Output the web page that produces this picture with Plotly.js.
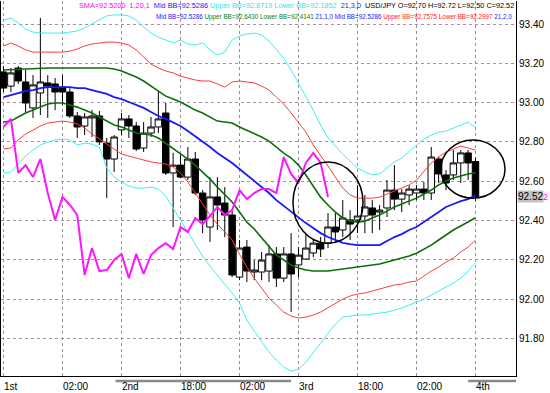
<!DOCTYPE html>
<html><head><meta charset="utf-8">
<script src="https://cdn.plot.ly/plotly-3.0.1.min.js"></script>
<style>html,body{margin:0;padding:0;background:#fff}#chart{width:550px;height:393px}</style>
</head><body><div id="chart"></div>
<script>
// USD/JPY hourly candles
const openP = [93.156,93.084,93.176,93.105,92.973,93.049,93.100,93.095,93.079,93.054,
 92.932,92.881,92.922,92.932,92.794,92.713,92.861,92.917,92.881,92.769,
 92.845,92.876,92.947,92.642,92.682,92.621,92.713,92.540,92.367,92.520,
 92.489,92.428,92.112,92.265,92.138,92.138,92.143,92.230,92.107,92.230,
 92.174,92.204,92.235,92.285,92.285,92.367,92.352,92.403,92.403,92.423,
 92.464,92.443,92.464,92.555,92.509,92.530,92.540,92.560,92.540,92.713,
 92.632,92.632,92.693,92.744,92.70];
const highP = [93.186,93.176,93.186,93.166,93.140,93.431,93.140,93.125,93.140,93.074,
 92.952,92.947,92.962,92.957,92.820,92.835,92.947,92.937,92.901,92.901,
 92.927,93.054,92.998,92.744,92.733,92.774,92.749,92.555,92.621,92.621,
 92.570,92.453,92.301,92.301,92.199,92.240,92.275,92.265,92.265,92.336,
 92.265,92.336,92.301,92.316,92.438,92.438,92.504,92.453,92.580,92.530,
 92.504,92.479,92.606,92.682,92.560,92.580,92.580,92.596,92.774,92.723,
 92.657,92.759,92.759,92.759,92.72];
const lowP = [93.054,93.054,93.095,92.947,92.922,92.937,92.922,92.962,92.988,92.922,
 92.820,92.835,92.825,92.784,92.515,92.647,92.835,92.820,92.754,92.749,
 92.825,92.845,92.632,92.367,92.615,92.606,92.530,92.336,92.291,92.352,
 92.316,92.112,92.097,92.087,92.097,92.097,92.087,92.062,92.087,91.934,
 92.112,92.199,92.214,92.214,92.260,92.291,92.316,92.301,92.336,92.336,
 92.336,92.352,92.418,92.453,92.443,92.479,92.504,92.504,92.504,92.591,
 92.555,92.606,92.591,92.606,92.50];
const closeP = [93.074,93.151,93.110,92.998,93.090,93.105,93.084,93.054,93.054,92.932,
 92.876,92.927,92.932,92.800,92.713,92.825,92.917,92.881,92.764,92.845,
 92.876,92.917,92.642,92.682,92.621,92.713,92.540,92.403,92.520,92.479,
 92.428,92.123,92.260,92.143,92.148,92.199,92.230,92.107,92.230,92.128,
 92.224,92.260,92.285,92.255,92.367,92.342,92.413,92.382,92.423,92.469,
 92.428,92.453,92.555,92.509,92.540,92.560,92.560,92.540,92.723,92.637,
 92.591,92.693,92.744,92.693,92.52];

// Bollinger bands (21 periods, 1/2/3 deviations)
const midBB = [93.028,93.039,93.049,93.059,93.064,93.074,93.079,93.079,93.079,93.079,
 93.074,93.074,93.064,93.054,93.044,93.028,93.018,93.003,92.988,92.973,
 92.952,92.932,92.917,92.901,92.881,92.856,92.830,92.800,92.774,92.744,
 92.718,92.693,92.662,92.632,92.601,92.571,92.540,92.504,92.474,92.443,
 92.413,92.387,92.362,92.336,92.316,92.301,92.286,92.280,92.275,92.275,
 92.275,92.275,92.296,92.316,92.331,92.352,92.367,92.392,92.418,92.443,
 92.469,92.484,92.499,92.509,92.529];
const up1 = [93.166,93.168,93.171,93.171,93.173,93.176,93.176,93.176,93.176,93.176,
 93.176,93.176,93.176,93.176,93.176,93.171,93.161,93.145,93.130,93.110,
 93.084,93.059,93.033,93.018,93.003,92.983,92.962,92.947,92.927,92.906,
 92.901,92.896,92.876,92.860,92.845,92.825,92.804,92.774,92.743,92.718,
 92.682,92.632,92.575,92.519,92.479,92.443,92.413,92.397,92.392,92.397,
 92.413,92.428,92.448,92.469,92.484,92.499,92.514,92.535,92.555,92.581,
 92.601,92.616,92.626,92.637,92.643];
const lo1 = [92.901,92.906,92.927,92.947,92.962,92.977,92.993,92.998,92.998,92.988,
 92.977,92.962,92.947,92.927,92.906,92.886,92.876,92.860,92.845,92.840,
 92.835,92.820,92.794,92.764,92.738,92.713,92.682,92.647,92.611,92.570,
 92.530,92.494,92.443,92.392,92.357,92.311,92.270,92.224,92.199,92.173,
 92.158,92.148,92.143,92.143,92.143,92.148,92.153,92.158,92.163,92.168,
 92.173,92.179,92.189,92.199,92.209,92.219,92.234,92.255,92.275,92.301,
 92.326,92.352,92.372,92.392,92.414];
const up2 = [93.288,93.303,93.288,93.268,93.257,93.257,93.257,93.257,93.257,93.262,
 93.273,93.288,93.298,93.303,93.308,93.308,93.303,93.293,93.268,93.232,
 93.196,93.176,93.161,93.151,93.135,93.125,93.115,93.110,93.110,93.095,
 93.079,93.105,93.110,93.105,93.100,93.084,93.064,93.028,92.993,92.947,
 92.901,92.850,92.784,92.733,92.677,92.621,92.565,92.530,92.514,92.514,
 92.514,92.519,92.535,92.550,92.565,92.581,92.606,92.647,92.693,92.723,
 92.749,92.764,92.779,92.769,92.758];
const lo2 = [92.764,92.769,92.810,92.840,92.860,92.881,92.896,92.901,92.906,92.901,
 92.891,92.871,92.840,92.815,92.789,92.764,92.738,92.728,92.718,92.708,
 92.698,92.693,92.687,92.672,92.642,92.596,92.540,92.479,92.428,92.382,
 92.341,92.301,92.229,92.163,92.107,92.056,92.005,91.970,91.934,91.914,
 91.904,91.909,91.919,91.934,91.955,91.980,92.000,92.016,92.026,92.031,
 92.041,92.051,92.062,92.072,92.077,92.087,92.092,92.117,92.143,92.163,
 92.189,92.209,92.240,92.265,92.300];
const up3 = [93.420,93.430,93.405,93.374,93.359,93.354,93.354,93.354,93.354,93.359,
 93.364,93.380,93.400,93.420,93.441,93.446,93.446,93.441,93.420,93.385,
 93.354,93.334,93.318,93.303,93.318,93.298,93.293,93.303,93.268,93.242,
 93.257,93.318,93.339,93.349,93.354,93.344,93.313,93.272,93.227,93.166,
 93.100,93.033,92.962,92.886,92.820,92.779,92.738,92.703,92.667,92.647,
 92.632,92.637,92.667,92.698,92.718,92.749,92.784,92.815,92.835,92.850,
 92.855,92.871,92.886,92.901,92.872];
const lo3 = [92.642,92.647,92.687,92.728,92.759,92.784,92.799,92.810,92.815,92.810,
 92.784,92.794,92.789,92.774,92.667,92.621,92.596,92.575,92.565,92.565,
 92.570,92.560,92.525,92.464,92.402,92.341,92.280,92.219,92.168,92.123,
 92.077,92.031,91.980,91.894,91.837,91.782,91.731,91.690,91.654,91.634,
 91.644,91.680,91.726,91.777,91.827,91.873,91.909,91.914,91.919,91.919,
 91.924,91.929,91.934,91.944,91.955,91.970,91.985,92.000,92.021,92.041,
 92.062,92.082,92.107,92.143,92.185];

// SMA(1) shifted 20 bars back (magenta)
const lagSMA = [92.876,92.917,92.642,92.682,92.621,92.713,92.540,92.403,92.520,92.479,
 92.428,92.123,92.260,92.143,92.148,92.199,92.230,92.107,92.230,92.128,
 92.224,92.260,92.285,92.255,92.367,92.342,92.413,92.382,92.423,92.469,
 92.428,92.453,92.555,92.509,92.540,92.560,92.560,92.540,92.723,92.637,
 92.591,92.693,92.744,92.693,92.52];

const tickIdx = [0,8,16,24,32,40,48,56,64];
const tickText = ['1st','02:00','2nd','18:00','02:00','3rd','18:00','02:00','4th'];
const yTicks = [91.8,92.0,92.2,92.4,92.6,92.8,93.0,93.2,93.4];

const idx = openP.map((_, i) => i);
const lagIdx = lagSMA.map((_, i) => i);

const FONT = 'Liberation Sans, Arial, sans-serif';
function band(y, color, width) {
  return {type:'scatter', mode:'lines', x: idx, y: y, line:{color:color, width:width},
          hoverinfo:'skip', showlegend:false};
}

const traces = [
  {type:'candlestick', x: idx, open: openP, high: highP, low: lowP, close: closeP,
   increasing:{line:{color:'#000', width:1}, fillcolor:'#ffffff'},
   decreasing:{line:{color:'#000', width:1}, fillcolor:'#000000'},
   whiskerwidth:0, hoverinfo:'skip', showlegend:false},
  band(up3, '#40eef2', 1),
  band(lo3, '#40eef2', 1),
  band(up2, '#ff3b3b', 1),
  band(lo2, '#ff3b3b', 1),
  band(up1, '#0b6e0b', 1.6),
  band(lo1, '#0b6e0b', 1.6),
  band(midBB, '#1818ff', 1.8),
  {type:'scatter', mode:'lines', x: lagIdx, y: lagSMA, line:{color:'#ff14ff', width:2},
   hoverinfo:'skip', showlegend:false}
];

const annotations = tickIdx.map((t, i) => ({
  x: t, xref:'x', y: -0.029, yref:'paper', xanchor:'left', yanchor:'middle',
  text: tickText[i], showarrow:false, borderpad:0, xshift:-1,
  font:{family:FONT, size:10, color:'#000'}
}));

const C = {m:'#ff00ff', b:'#2020ff', c:'#2ee6f0', g:'#0b7a0b', r:'#ff2020', k:'#000000'};
function sp(col, t){ return '<span style="color:' + col + '">' + t + '</span>'; }
annotations.push({
  x: 0.998, xref:'paper', y: 0.987, yref:'paper', xanchor:'right', yanchor:'middle',
  showarrow:false, borderpad:0, font:{family:FONT, size:7.3, color:'#000'},
  text: sp(C.m, 'SMA=92.5200&nbsp;&nbsp;1,20,1') + '&nbsp;&nbsp;' + sp(C.b, 'Mid BB=92.5286') + ' ' +
        sp(C.c, 'Upper BB=92.8719 Lower BB=92.1852') + '&nbsp;&nbsp;' + sp(C.b, '21,3,0') + '&nbsp;&nbsp;' +
        sp(C.k, 'USD/JPY O=92.70 H=92.72 L=92.50 C=92.52')
});
annotations.push({
  x: 0.994, xref:'paper', y: 0.957, yref:'paper', xanchor:'right', yanchor:'middle',
  showarrow:false, borderpad:0, font:{family:FONT, size:6.3, color:'#000'},
  text: sp(C.b, 'Mid BB=92.5286') + ' ' + sp(C.g, 'Upper BB=92.6430 Lower BB=92.4141') + ' ' +
        sp(C.b, '21,1,0') + ' ' + sp(C.b, 'Mid BB=92.5286') + ' ' +
        sp(C.r, 'Upper BB=92.7575 Lower BB=92.2997') + ' ' + sp(C.b, '21,2,0')
});
// current price label on the right axis (grey box) and the magenta marker digit
annotations.push({x:1.0, xref:'paper', xshift:1, y: closeP[closeP.length-1], yref:'y', xanchor:'left', yanchor:'middle',
  showarrow:false, borderpad:0, bgcolor:'#c4c4c4', text:'92.52', font:{family:FONT, size:10, color:'#000'}});
annotations.push({x:1.0, xref:'paper', xshift:26, y: closeP[closeP.length-1], yref:'y', xanchor:'left', yanchor:'middle',
  showarrow:false, borderpad:0, text:'2', font:{family:FONT, size:9, color:'#ff00ff'}});

const shapes = [
  {type:'circle', xref:'x', yref:'y', x0:39.25, x1:48.75, y0:92.285, y1:92.698,
   line:{color:'#000', width:1.5}},
  {type:'circle', xref:'x', yref:'y', x0:59.3, x1:68.0, y0:92.514, y1:92.810,
   line:{color:'#000', width:1.5}},
  {type:'line', xref:'x', yref:'paper', x0:15.2, x1:39, y0:-0.0135, y1:-0.0135,
   line:{color:'#8a8a8a', width:2.5}},
  {type:'line', xref:'x', yref:'paper', x0:63.0, x1:69.5, y0:-0.0135, y1:-0.0135,
   line:{color:'#8a8a8a', width:2.5}}
];

const layout = {
  width:550, height:393,
  margin:{l:1, r:34, t:1, b:17, pad:0},
  paper_bgcolor:'#ffffff', plot_bgcolor:'#ffffff',
  showlegend:false, boxgap:0.08, boxgroupgap:0.05,
  xaxis:{range:[-0.339, 69.492], tickvals:tickIdx, showticklabels:false, ticks:'',
         showgrid:true, gridcolor:'#9a8aa6', griddash:'dot', gridwidth:1,
         zeroline:false, showline:true, linecolor:'#000', linewidth:1, mirror:false,
         rangeslider:{visible:false}, fixedrange:true},
  yaxis:{range:[91.609, 93.517], side:'right', tickvals:yTicks,
         ticktext:yTicks.map(v => v.toFixed(2)), ticks:'', ticklen:0,
         tickfont:{family:FONT, size:10, color:'#000'},
         showgrid:true, gridcolor:'#a890a0', griddash:'dot', gridwidth:1,
         zeroline:false, showline:true, linecolor:'#000', linewidth:1, mirror:true, fixedrange:true},
  annotations: annotations,
  shapes: shapes
};

Plotly.newPlot('chart', traces, layout, {staticPlot:true, displayModeBar:false});
</script>
</body></html>
